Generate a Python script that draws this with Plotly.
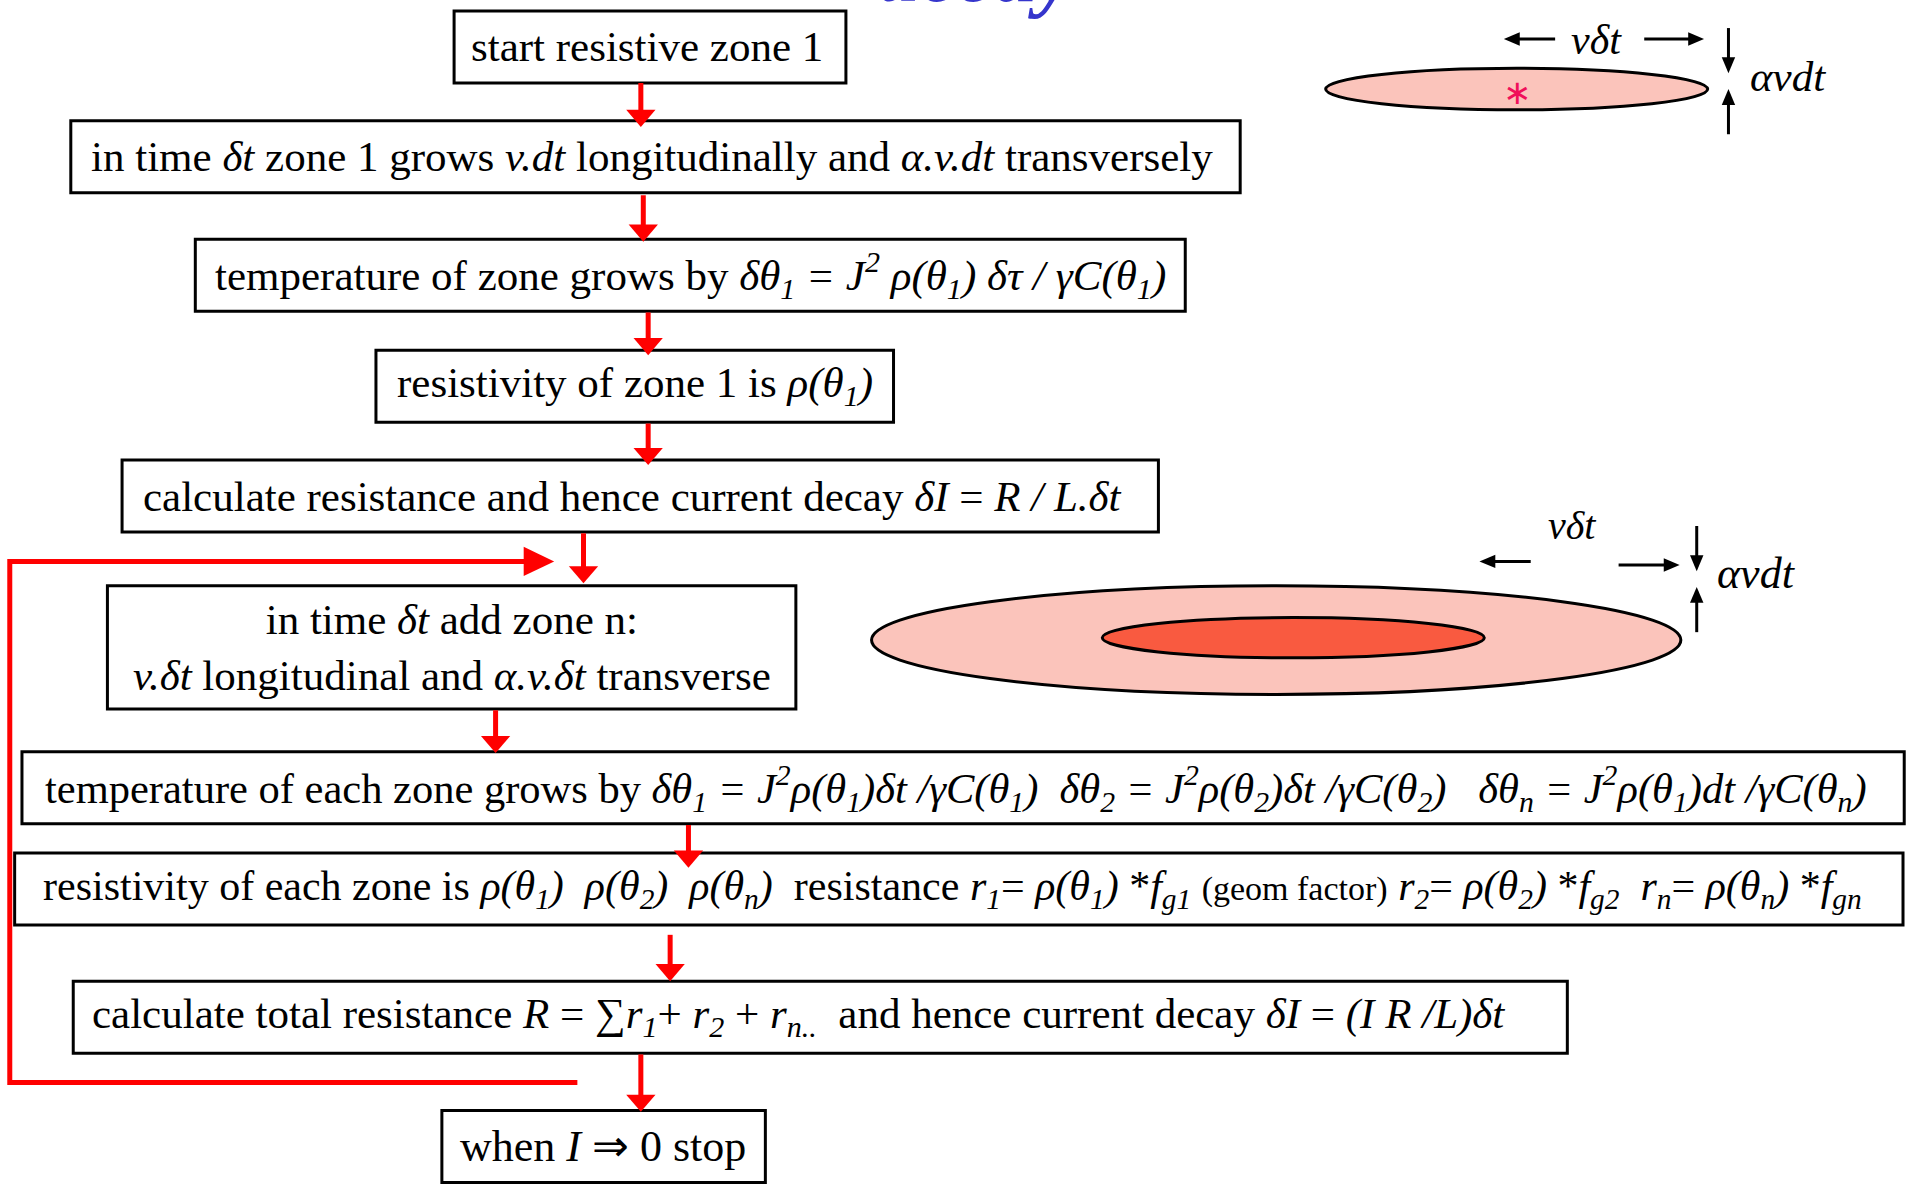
import plotly.graph_objects as go

# ---------------- data (reference drawn in a 1568 x 971 coordinate frame) ----------------
NBSP = "\u00a0"
box_labels = [
    "start resistive zone 1",
    "in time <i>δt</i> zone 1 grows <i>v.dt</i> longitudinally and <i>α.v.dt</i> transversely",
    "temperature of zone grows by <i>δθ<sub>1</sub> = J<sup>2</sup> ρ(θ<sub>1</sub>) δτ / γC(θ<sub>1</sub>)</i>",
    "resistivity of zone 1 is <i>ρ(θ<sub>1</sub>)</i>",
    "calculate resistance and hence current decay <i>δI</i> = <i>R / L.δt</i>",
    "in time <i>δt</i> add zone n:<br><i>v.δt</i> longitudinal and <i>α.v.δt</i> transverse",
    "temperature of each zone grows by <i>δθ<sub>1</sub> = J<sup>2</sup>ρ(θ<sub>1</sub>)δt /γC(θ<sub>1</sub>)"
    + NBSP * 2 + "δθ<sub>2</sub> = J<sup>2</sup>ρ(θ<sub>2</sub>)δt /γC(θ<sub>2</sub>)" + NBSP * 3
    + "δθ<sub>n</sub> = J<sup>2</sup>ρ(θ<sub>1</sub>)dt /γC(θ<sub>n</sub>)</i>",
    "resistivity of each zone is <i>ρ(θ<sub>1</sub>)" + NBSP * 2 + "ρ(θ<sub>2</sub>)" + NBSP * 2
    + "ρ(θ<sub>n</sub>)</i>" + NBSP * 2 + "resistance <i>r<sub>1</sub></i>= <i>ρ(θ<sub>1</sub>)</i> *<i>f<sub>g1</sub></i> "
    + "<span style='font-size:34px'>(geom factor)</span> <i>r<sub>2</sub></i>= <i>ρ(θ<sub>2</sub>)</i> *<i>f<sub>g2</sub></i>"
    + NBSP * 2 + "<i>r<sub>n</sub></i>= <i>ρ(θ<sub>n</sub>)</i> *<i>f<sub>gn</sub></i>",
    "calculate total resistance <i>R</i> = <i>∑r<sub>1</sub></i>+ <i>r<sub>2</sub></i> + <i>r<sub>n..</sub></i>"
    + NBSP * 2 + "and hence current decay <i>δI</i> = <i>(I R /L)δt</i>",
    "when <i>I</i> ⇒ 0 stop",
]
box_x0 = [372, 58, 160, 308, 100, 88, 18, 12, 60, 362]
box_x1 = [693, 1016, 971, 732, 949, 652, 1560, 1559, 1284, 627]
box_y0 = [9, 99, 196, 287, 377, 480, 616, 699, 804, 910]
box_y1 = [68, 158, 255, 346, 436, 581, 675, 758, 863, 969]
box_font = [43, 43, 43, 43, 43, 43, 42.5, 42, 43, 44]
# horizontal centre of each label (the total-resistance label sits left of centre)
text_cx = [530, 534, 566, 520, 518, 370, 783, 780, 654, 494]

# vertical flow arrows: x, y_start, y_tip
flow_x = [525, 527, 531, 531, 478, 406, 564, 549, 525]
flow_y0 = [68, 160, 256, 347, 437, 582, 676, 766, 864]
flow_y1 = [104, 198, 291, 381, 478, 617, 711, 804, 911]

# feedback loop path (bottom -> left -> top) and arrow tip
loop_x = [473, 8, 8, 454]
loop_y = [887, 887, 460, 460]

# zone ellipses: x0, x1, y0, y1, fill
ell_x0 = [1086, 714, 903]
ell_x1 = [1399, 1377, 1216]
ell_y0 = [56, 480, 506]
ell_y1 = [90, 569, 539]
ell_fill = ["#fbc4bb", "#fbc4bb", "#f95a40"]

# dimension labels
dim_text = ["<i>vδt</i>", "<i>αvdt</i>", "<i>vδt</i>", "<i>αvdt</i>"]
dim_x = [1308, 1465, 1288, 1439]
dim_y = [33, 63, 431, 470]
dim_size = [42, 43, 40, 44]

# black dimension arrows: (x_tail, y_tail, x_tip, y_tip)
dim_arrows = [
    (1274, 32, 1232, 32), (1347, 32, 1396, 32), (1416, 23, 1416, 60), (1416, 110, 1416, 73),
    (1254, 460, 1212, 460), (1326, 463, 1376, 463), (1390, 431, 1390, 468), (1390, 518, 1390, 481),
]

W, H = 1568, 971

fig = go.Figure()
shapes = []
annotations = []


def head(tx, ty, dx, dy, length, width, color):
    # triangle with tip at (tx, ty), pointing in unit direction (dx, dy)
    bx, by = tx - dx * length, ty - dy * length
    px, py = -dy * width / 2, dx * width / 2
    return dict(type="path", xref="x", yref="y",
                path=f"M {tx},{ty} L {bx + px},{by + py} L {bx - px},{by - py} Z",
                fillcolor=color, line=dict(color=color, width=0), layer="above")


# ellipses
for x0, x1, y0, y1, fc in zip(ell_x0, ell_x1, ell_y0, ell_y1, ell_fill):
    shapes.append(dict(type="circle", xref="x", yref="y", x0=x0, x1=x1, y0=y0, y1=y1,
                       fillcolor=fc, line=dict(color="black", width=3), layer="below"))

# boxes and their text
for lab, x0, x1, y0, y1, fs, cx in zip(box_labels, box_x0, box_x1, box_y0, box_y1, box_font, text_cx):
    shapes.append(dict(type="rect", xref="x", yref="y", x0=x0, x1=x1, y0=y0, y1=y1,
                       fillcolor="white", line=dict(color="black", width=3), layer="below"))
    annotations.append(dict(x=cx, y=(y0 + y1) / 2, xref="x", yref="y", text=lab,
                            showarrow=False, xanchor="center", yanchor="middle", align="center",
                            font=dict(family="Liberation Serif", size=fs, color="black")))

RED = "#ff0000"
# flow arrows
for x, y0, y1 in zip(flow_x, flow_y0, flow_y1):
    shapes.append(dict(type="line", xref="x", yref="y", x0=x, x1=x, y0=y0, y1=y1 - 12,
                       line=dict(color=RED, width=5), layer="above"))
    shapes.append(head(x, y1, 0, 1, 14, 24, RED))

# loop
path = "M " + " L ".join(f"{x},{y}" for x, y in zip(loop_x[:-1] + [loop_x[-1] - 20], loop_y))
shapes.append(dict(type="path", xref="x", yref="y", path=path,
                   line=dict(color=RED, width=5), layer="above"))
shapes.append(head(loop_x[-1], loop_y[-1], 1, 0, 25, 24, RED))

# dimension arrows
for xt, yt, xh, yh in dim_arrows:
    L = ((xh - xt) ** 2 + (yh - yt) ** 2) ** 0.5
    dx, dy = (xh - xt) / L, (yh - yt) / L
    shapes.append(dict(type="line", xref="x", yref="y", x0=xt, y0=yt, x1=xh - dx * 8, y1=yh - dy * 8,
                       line=dict(color="black", width=3)))
    shapes.append(head(xh, yh, dx, dy, 13, 11, "black"))

for t, x, y, s in zip(dim_text, dim_x, dim_y, dim_size):
    annotations.append(dict(x=x, y=y, xref="x", yref="y", text=t, showarrow=False,
                            xanchor="center", yanchor="middle",
                            font=dict(family="Liberation Serif", size=s, color="black")))

# initial hot spot
annotations.append(dict(x=1243, y=75, xref="x", yref="y", text="∗", showarrow=False,
                        xanchor="center", yanchor="middle",
                        font=dict(family="DejaVu Sans", size=34, color="#f0105a")))

# title fragment (cut off at top)
annotations.append(dict(x=800 / W, y=1, xref="paper", yref="paper", text="<i><b>decay</b></i>",
                        showarrow=False, xanchor="center", yanchor="bottom", yshift=-21,
                        font=dict(family="Liberation Serif", size=84, color="#3535cc")))

fig.update_layout(
    width=1914, height=1185, margin=dict(l=0, r=0, t=0, b=0),
    paper_bgcolor="white", plot_bgcolor="white",
    xaxis=dict(range=[0, W], visible=False, fixedrange=True),
    yaxis=dict(range=[H, 0], visible=False, fixedrange=True),
    shapes=shapes, annotations=annotations, showlegend=False,
)
fig.write_html("out.html", config={"displayModeBar": False},
               post_script="document.body.style.margin='0px';document.body.style.overflow='hidden';")
